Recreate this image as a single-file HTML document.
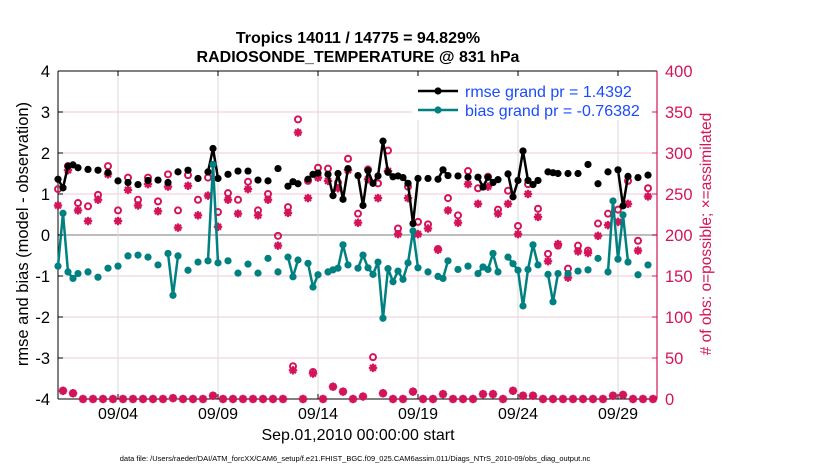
<!DOCTYPE html>
<html><head><meta charset="utf-8"><style>
body{margin:0;background:#fff;}
svg{display:block;font-family:"Liberation Sans",Arial,sans-serif;}
</style></head><body>
<svg id="chart" width="830" height="470" viewBox="0 0 830 470" xmlns="http://www.w3.org/2000/svg">
<text x="358" y="43" text-anchor="middle" font-size="16" font-weight="bold">Tropics 14011 / 14775 = 94.829%</text>
<text x="358" y="62" text-anchor="middle" font-size="16" font-weight="bold">RADIOSONDE_TEMPERATURE @ 831 hPa</text>
<g id="grid"></g>
<g id="axes"></g>
<g id="marks"></g>
<g id="legend">
<rect x="412" y="76" width="240" height="44" fill="#fff"/>
<line x1="418" y1="91" x2="458" y2="91" stroke="#000" stroke-width="2.5"/>
<circle cx="438" cy="91" r="3.6" fill="#000"/>
<text x="465" y="97" font-size="16" fill="#1a4cff">rmse grand pr = 1.4392</text>
<line x1="418" y1="110" x2="458" y2="110" stroke="#008080" stroke-width="2.5"/>
<circle cx="438" cy="110" r="3.6" fill="#008080"/>
<text x="465" y="116" font-size="16" fill="#1a4cff">bias grand pr = -0.76382</text>
</g>
<text transform="translate(28,234) rotate(-90)" text-anchor="middle" font-size="16.5">rmse and bias (model - observation)</text>
<text transform="translate(711,234) rotate(-90)" text-anchor="middle" font-size="15.5" fill="#d4145a"># of obs: o=possible; ×=assimilated</text>
<text x="358" y="440" text-anchor="middle" font-size="16">Sep.01,2010 00:00:00 start</text>
<text x="355" y="461" text-anchor="middle" font-size="7.5">data file: /Users/raeder/DAI/ATM_forcXX/CAM6_setup/f.e21.FHIST_BGC.f09_025.CAM6assim.011/Diags_NTrS_2010-09/obs_diag_output.nc</text>
</svg>
<script>
const xTickIdx=[12,32,52,72,92,112];
const xTickLabels=["09/04","09/09","09/14","09/19","09/24","09/29"];
const yLeftTicks=[4,3,2,1,0,-1,-2,-3,-4];
const yRightTicks=[400,350,300,250,200,150,100,50,0];
const rmseT=[0,1,2,3,4,6,8,10,12,14,16,18,20,22,24,26,28,30,31,32,34,36,38,40,42,44,46,47,48,50,51,52,54,55,56,57,58,60,61,62,63,64,65,66,67,68,69,70,71,72,74,76,77,78,80,82,84,85,86,87,88,90,91,92,93,94,95,96,98,99,100,102,104,106,108,110,112,113,114,116,118];
const rmseV=[1.36,1.15,1.68,1.71,1.64,1.60,1.58,1.52,1.32,1.28,1.23,1.33,1.34,1.28,1.54,1.58,1.38,1.54,2.11,1.38,1.48,1.56,1.56,1.34,1.32,1.62,1.19,1.30,1.25,1.36,1.48,1.51,1.48,0.96,1.50,0.87,1.62,1.45,0.72,1.57,1.26,1.44,2.29,1.53,1.42,1.44,1.40,1.26,0.28,1.38,1.38,1.36,1.59,1.45,1.44,1.41,1.41,1.17,1.41,1.28,1.35,1.49,0.93,1.33,2.05,1.33,1.23,1.33,1.54,1.52,1.50,1.50,1.50,1.72,1.25,1.54,1.59,0.71,1.43,1.40,1.46];
const biasT=[0,1,2,3,4,6,8,10,12,14,16,18,20,22,23,24,26,28,30,31,32,34,36,38,40,42,44,46,47,48,50,51,52,54,55,56,57,58,60,61,62,63,64,65,66,67,68,69,70,71,72,74,76,77,78,80,82,84,85,86,87,88,90,91,92,93,94,95,96,98,99,100,102,104,106,108,110,111,112,113,114,116,118];
const biasV=[-0.76,0.53,-0.90,-1.06,-0.94,-0.90,-1.03,-0.81,-0.76,-0.51,-0.49,-0.54,-0.73,-0.45,-1.47,-0.51,-0.86,-0.66,-0.63,1.72,-0.68,-0.63,-0.93,-0.71,-0.93,-0.57,-0.90,-0.54,-1.02,-0.61,-0.69,-1.27,-0.97,-0.90,-0.85,-0.81,-0.24,-0.73,-0.81,-0.49,-0.80,-0.96,-0.66,-2.03,-0.82,-1.14,-0.88,-1.08,-0.68,0.10,-0.80,-0.90,-1.01,-1.06,-0.63,-0.84,-0.76,-0.94,-0.78,-0.84,-0.45,-0.90,-0.54,-0.70,-0.86,-1.73,-0.84,-0.24,-0.73,-0.96,-1.63,-0.94,-0.94,-0.88,-0.85,-0.57,-0.90,0.83,-0.59,0.49,-0.66,-0.97,-0.73];
const evenT=[0,2,4,6,8,10,12,14,16,18,20,22,24,26,28,30,32,34,36,38,40,42,44,46,48,50,52,54,56,58,60,62,64,66,68,70,72,74,76,78,80,82,84,86,88,90,92,94,96,98,100,102,104,106,108,110,112,114,116,118];
const possibleEven=[256,284,239,235,249,284,230,270,243,270,241,274,230,273,243,270,228,251,243,265,230,250,199,234,341,266,282,281,264,293,226,280,263,303,208,259,216,213,183,245,224,278,257,271,231,254,211,262,232,177,187,159,187,181,214,226,231,266,193,257];
const assimEven=[236,279,230,217,243,274,217,255,236,262,229,259,209,260,224,248,210,243,226,256,224,243,187,227,325,245,270,266,257,279,215,268,245,278,201,245,201,208,182,230,215,262,238,259,226,238,201,250,222,168,189,148,180,178,199,212,216,238,181,247];
const oddT=[1,3,5,7,9,11,13,15,17,19,21,23,25,27,29,31,33,35,37,39,41,43,45,47,49,51,53,55,57,59,61,63,65,67,69,71,73,75,77,79,81,83,85,87,89,91,93,95,97,99,101,103,105,107,109,111,113,115,117,119];
const possibleOdd=[10,7,0,0,0,0,0,0,0,0,0,1,0,0,0,4,0,0,0,0,0,0,0,40,0,33,0,15,9,0,3,51,7,0,0,9,0,0,6,0,0,0,6,6,0,10,4,4,0,0,0,0,0,0,0,4,5,0,0,0];
const assimOdd=[10,7,0,0,0,0,0,0,0,0,0,1,0,0,0,4,0,0,0,0,0,0,0,35,0,31,0,15,9,0,3,38,7,0,0,9,0,0,6,0,0,0,6,6,0,10,4,4,0,0,0,0,0,0,0,4,5,0,0,0];

const L=58,R=657,T=71,B=399;
const ns="http://www.w3.org/2000/svg";
function xS(i){return L+i*(R-L)/119.8;}
function yL(v){return B-(v+4)*(B-T)/8;}
function yR(c){return B-c*(B-T)/400;}
function mk(tag,attrs,parent){const e=document.createElementNS(ns,tag);for(const k in attrs)e.setAttribute(k,attrs[k]);parent.appendChild(e);return e;}
const grid=document.getElementById('grid'),axes=document.getElementById('axes'),marks=document.getElementById('marks');
mk('rect',{x:L,y:T,width:R-L,height:B-T,fill:'#fff'},grid);
yLeftTicks.forEach(v=>{
  const y=yL(v);
  const g=mk('line',{x1:L,x2:R,y1:y,y2:y,stroke:v===0?'#bdbdbd':'#f2c9d8','stroke-width':v===0?2:1},grid);
  
  
  const t=mk('text',{x:L-8,y:y+6,'text-anchor':'end','font-size':16.5},axes);t.textContent=v;
  
  
  mk('line',{x1:L,x2:L+5,y1:y,y2:y,stroke:'#000'},axes);
});
yRightTicks.forEach(c=>{
  const y=yR(c);
  const t=mk('text',{x:R+8,y:y+6,'font-size':16.5,fill:'#d4145a'},axes);t.textContent=c;
  
  
  mk('line',{x1:R-5,x2:R,y1:y,y2:y,stroke:'#d4145a'},axes);
});
xTickIdx.forEach((i,k)=>{
  const x=xS(i);
  const g=mk('line',{x1:x,x2:x,y1:T,y2:B,stroke:'#d9d9d9','stroke-width':1},grid);
  
  
  mk('line',{x1:x,x2:x,y1:B,y2:B-5,stroke:'#000'},axes);
  mk('line',{x1:x,x2:x,y1:T,y2:T+5,stroke:'#000'},axes);
  const t=mk('text',{x:x,y:B+20,'text-anchor':'middle','font-size':16},axes);t.textContent=xTickLabels[k];
  
  
});
mk('line',{x1:L,x2:R,y1:T,y2:T,stroke:'#000'},axes);
mk('line',{x1:L,x2:R,y1:B,y2:B,stroke:'#000'},axes);
mk('line',{x1:L,x2:L,y1:T,y2:B,stroke:'#000'},axes);
mk('line',{x1:R,x2:R,y1:T,y2:B,stroke:'#d4145a','stroke-width':1.2},axes);

function star(x,y,parent){
  const g=mk('g',{},parent);
  
  
  [0,45,90,135].forEach(a=>{const r=a*Math.PI/180,d=4.2;
    mk('line',{x1:x-d*Math.cos(r),y1:y-d*Math.sin(r),x2:x+d*Math.cos(r),y2:y+d*Math.sin(r),stroke:'#d4145a','stroke-width':2.2},g);});
}
function circ(x,y,parent){
  const c=mk('circle',{cx:x,cy:y,r:3,fill:'none',stroke:'#d4145a','stroke-width':2},parent);
  
  
}
evenT.forEach((i,k)=>{circ(xS(i),yR(possibleEven[k]),marks);star(xS(i),yR(assimEven[k]),marks);});
oddT.forEach((i,k)=>{circ(xS(i),yR(possibleOdd[k]),marks);star(xS(i),yR(assimOdd[k]),marks);});

function series(ts,vs,color,name){
  let d='';
  ts.forEach((t,k)=>{const x=xS(t),y=yL(vs[k]);d+=(k>0&&t-ts[k-1]===1?'L':'M')+x.toFixed(1)+' '+y.toFixed(1);});
  const p=mk('path',{d:d,fill:'none',stroke:color,'stroke-width':2.5,'stroke-linejoin':'round'},marks);
  
  
  ts.forEach((t,k)=>{const c=mk('circle',{cx:xS(t),cy:yL(vs[k]),r:3.6,fill:color},marks);
    
    });
}
series(rmseT,rmseV,'#000','rmse');
series(biasT,biasV,'#008080','bias');
document.getElementById('chart').appendChild(document.getElementById('legend'));
</script>
</body></html>
